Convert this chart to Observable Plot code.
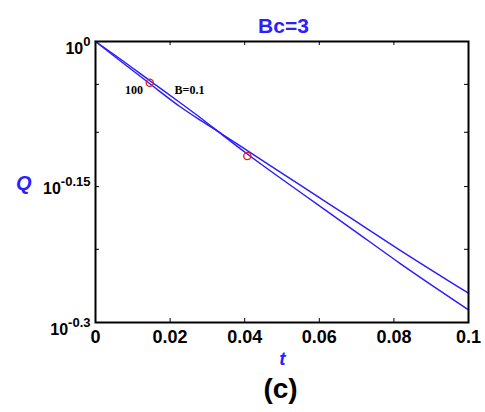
<!DOCTYPE html>
<html>
<head>
<meta charset="utf-8">
<script src="https://cdn.jsdelivr.net/npm/d3@7"></script>
<script src="https://cdn.jsdelivr.net/npm/@observablehq/plot@0.6"></script>
<style>
  html, body { margin: 0; padding: 0; background: #fff; }
</style>
</head>
<body>
<div id="chart"></div>
<script>
// ---- data ----
const title = "Bc=3";
const xLabel = "t";
const yLabel = "Q";
const panelLabel = "(c)";
const xTicks = [0, 0.02, 0.04, 0.06, 0.08, 0.1];
const xInnerTicks = [0.02, 0.04, 0.06, 0.08];
const yMinorTicks = [0.6, 0.7, 0.8, 0.9];
const yLabelExps = ["0", "-0.15", "-0.3"];

const tA = [0, 0.0072, 0.0145, 0.0228, 0.0282, 0.034, 0.0407, 0.055, 0.0684, 0.0818, 0.1];
const qA = [1, 0.9497, 0.9019, 0.8513, 0.8235, 0.7960, 0.7649, 0.7019, 0.6480, 0.5982, 0.5386];
const tB = [0, 0.0072, 0.0145, 0.0228, 0.0282, 0.034, 0.0407, 0.055, 0.0684, 0.0818, 0.1];
const qB = [1, 0.9544, 0.9086, 0.8597, 0.8286, 0.7950, 0.7584, 0.6899, 0.6322, 0.5790, 0.5171];

const markerT = [0.01455, 0.0407];
const markerQ = [0.9035, 0.7547];

const annoText = ["100", "B=0.1"];
const annoT = [0.0103, 0.0252];
const annoQ = [0.8866, 0.888];

// ---- build ----
const blue = "#2c1eff";
const red = "#e3191c";
const yLabelVals = yLabelExps.map(e => Math.pow(10, +e));
const expMap = new Map(yLabelVals.map((v, i) => [v, yLabelExps[i]]));
const lineA = tA.map((t, i) => ({t, q: qA[i]}));
const lineB = tB.map((t, i) => ({t, q: qB[i]}));
const markers = markerT.map((t, i) => ({t, q: markerQ[i]}));
const annos = annoText.map((s, i) => ({s, t: annoT[i], q: annoQ[i]}));

const W = 485, H = 412;
const mL = 95, mR = 17, mT = 41, mB = 90;
const fw = W - mL - mR, fh = H - mT - mB;

const svg = Plot.plot({
  width: W, height: H,
  marginLeft: mL, marginRight: mR, marginTop: mT, marginBottom: mB,
  style: {fontFamily: "'Liberation Sans', Arial, sans-serif", background: "#fff", color: "#000"},
  x: {domain: [0, 0.1], label: null},
  y: {type: "log", domain: [Math.pow(10, -0.3), 1], label: null},
  marks: [
    Plot.line(lineA, {x: "t", y: "q", stroke: blue, strokeWidth: 1.5, curve: "monotone-x"}),
    Plot.line(lineB, {x: "t", y: "q", stroke: blue, strokeWidth: 1.5, curve: "monotone-x"}),
    Plot.dot(markers, {x: "t", y: "q", r: 3.6, stroke: red, strokeWidth: 1.3, fill: "none"}),
    Plot.text(annos, {x: "t", y: "q", text: "s", fontFamily: "'Liberation Serif', 'Times New Roman', serif", fontWeight: "bold", fontSize: 12, fill: "#000"}),
    // inner tick marks
    Plot.tickX(xInnerTicks, {x: d => d, insetTop: fh - 4, stroke: "#000", strokeWidth: 1}),
    Plot.tickX(xInnerTicks, {x: d => d, insetBottom: fh - 4, stroke: "#000", strokeWidth: 1}),
    Plot.tickY(yMinorTicks, {y: d => d, insetRight: fw - 4, stroke: "#000", strokeWidth: 1}),
    Plot.tickY(yMinorTicks, {y: d => d, insetLeft: fw - 4, stroke: "#000", strokeWidth: 1}),
    Plot.frame({stroke: "#000", strokeWidth: 2}),
    Plot.axisX({ticks: xTicks, tickSize: 0, tickPadding: 8, fontSize: 18, fontWeight: "bold", tickFormat: d => String(d), label: null}),
    Plot.axisY({ticks: yLabelVals, tickSize: 0, tickPadding: 5, fontSize: 16, fontWeight: "bold", tickFormat: d => expMap.get(d), label: null}),
    Plot.text([title], {text: d => d, frameAnchor: "top", dy: -23, dx: 1.5, fontSize: 21, fontWeight: "bold", fill: blue}),
    Plot.text([yLabel], {text: d => d, frameAnchor: "left", dx: -79.5, dy: 1.5, fontSize: 20, fontWeight: "bold", fontStyle: "italic", fill: blue}),
    Plot.text([xLabel], {text: d => d, frameAnchor: "bottom", dy: 42, dx: 0.5, fontSize: 19, fontWeight: "bold", fontStyle: "italic", fill: blue}),
    Plot.text([panelLabel], {text: d => d, frameAnchor: "bottom", dy: 75, dx: -1.5, fontSize: 28, fontWeight: "bold", fill: "#000"})
  ]
});

// render y tick labels as 10^exp with superscripts
d3.select(svg).selectAll('g[aria-label="y-axis tick label"] text').each(function() {
  const exp = this.textContent;
  const t = d3.select(this);
  t.text("");
  t.attr("dy", "0.45em");
  t.append("tspan").text("10");
  t.append("tspan").attr("font-size", 13).attr("dy", "-0.62em").text(exp);
});

document.getElementById("chart").appendChild(svg);
</script>
</body>
</html>
